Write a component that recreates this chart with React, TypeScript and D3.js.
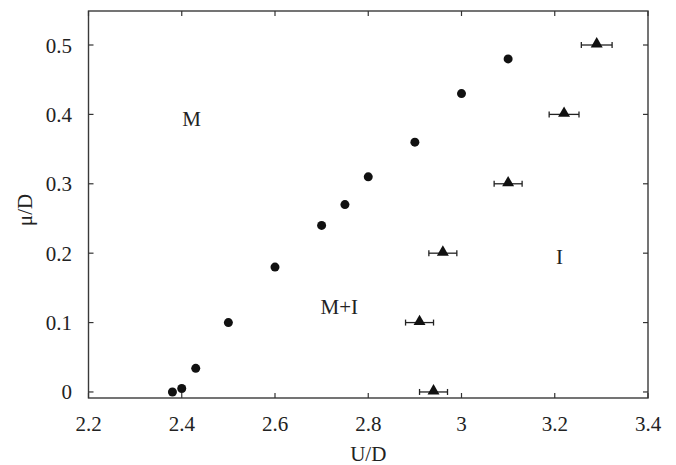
import React from "react";
import * as d3 from "d3";

const circleX = [2.38, 2.4, 2.43, 2.5, 2.6, 2.7, 2.75, 2.8, 2.9, 3.0, 3.1];
const circleY = [0, 0.005, 0.034, 0.1, 0.18, 0.24, 0.27, 0.31, 0.36, 0.43, 0.48];
const triX = [2.94, 2.91, 2.96, 3.1, 3.22, 3.29];
const triY = [0, 0.1, 0.2, 0.3, 0.4, 0.5];
const triErr = [0.03, 0.03, 0.03, 0.03, 0.032, 0.033];
const xTicks = [2.2, 2.4, 2.6, 2.8, 3.0, 3.2, 3.4];
const yTicks = [0, 0.1, 0.2, 0.3, 0.4, 0.5];
const regionLabels = [
  { text: "M", x: 2.421, y: 0.383 },
  { text: "M+I", x: 2.738, y: 0.112 },
  { text: "I", x: 3.21, y: 0.184 },
];

const W = 676;
const H = 465;
const left = 88.5;
const right = 648;
const top = 11;
const bottom = 398;

export default function App() {
  const x = d3.scaleLinear().domain([2.2, 3.4]).range([left, right]);
  const y = d3.scaleLinear().domain([-0.0087, 0.549]).range([bottom, top]);
  const tri = d3.symbol().type(d3.symbolTriangle).size(62)();
  const font = "'Liberation Serif', 'Times New Roman', serif";
  const col = "#222";
  const fs = 21;
  const fmt = (v: number) => String(v);
  return (
    <svg width={W} height={H} style={{ position: "absolute", left: 0, top: 0 }} fontFamily={font}>
      <rect x={0} y={0} width={W} height={H} fill="#fff" />
      <rect x={left} y={top} width={right - left} height={bottom - top} fill="none" stroke="#3a3a3a" strokeWidth={1.4} />
      {xTicks.map((t) => (
        <g key={"xt" + t}>
          <line x1={x(t)} x2={x(t)} y1={bottom} y2={bottom - 5} stroke="#333" strokeWidth={1.2} />
          <line x1={x(t)} x2={x(t)} y1={top} y2={top + 5} stroke="#333" strokeWidth={1.2} />
          <text x={x(t)} y={431} textAnchor="middle" fontSize={fs} fill={col}>
            {fmt(t)}
          </text>
        </g>
      ))}
      {yTicks.map((t) => (
        <g key={"yt" + t}>
          <line x1={left} x2={left + 5} y1={y(t)} y2={y(t)} stroke="#333" strokeWidth={1.2} />
          <line x1={right} x2={right - 5} y1={y(t)} y2={y(t)} stroke="#333" strokeWidth={1.2} />
          <text x={left - 16.5} y={y(t) + 7.5} textAnchor="end" fontSize={fs} fill={col}>
            {fmt(t)}
          </text>
        </g>
      ))}
      <text x={(left + right) / 2} y={461} textAnchor="middle" fontSize={fs} fill={col}>
        U/D
      </text>
      <text transform={`translate(32,210) rotate(-90)`} textAnchor="middle" fontSize={fs} fill={col}>
        μ/D
      </text>
      {regionLabels.map((r) => (
        <text key={r.text} x={x(r.x)} y={y(r.y)} textAnchor="middle" fontSize={fs} fill={col}>
          {r.text}
        </text>
      ))}
      {circleX.map((v, i) => (
        <circle key={"c" + i} cx={x(v)} cy={y(circleY[i])} r={4.5} fill="#111" />
      ))}
      {triX.map((v, i) => {
        const cy = y(triY[i]);
        const x0 = x(v - triErr[i]);
        const x1 = x(v + triErr[i]);
        return (
          <g key={"t" + i}>
            <line x1={x0} x2={x1} y1={cy} y2={cy} stroke="#222" strokeWidth={1.3} />
            <line x1={x0} x2={x0} y1={cy - 3} y2={cy + 3} stroke="#222" strokeWidth={1.3} />
            <line x1={x1} x2={x1} y1={cy - 3} y2={cy + 3} stroke="#222" strokeWidth={1.3} />
            <path d={tri} transform={`translate(${x(v)},${cy - 1})`} fill="#111" />
          </g>
        );
      })}
    </svg>
  );
}
